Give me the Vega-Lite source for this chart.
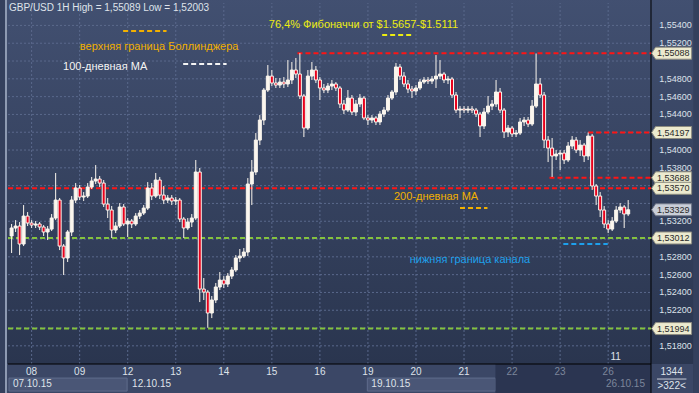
{
"$schema":"https://vega.github.io/schema/vega-lite/v6.json",
"width":653,"height":361,
"autosize":{"type":"none"},
"padding":{"left":3,"top":3,"right":43,"bottom":29},
"background":"#34405d",
"config":{"locale":{"number":{"decimal":",","thousands":" ","grouping":[3],"currency":["",""]}},"font":"Liberation Sans","view":{"stroke":null}},
"datasets":{
"candles":[
{"t":-10,"o":1.53034,"h":1.53169,"l":1.52843,"c":1.53124},
{"t":-8,"o":1.53124,"h":1.53213,"l":1.53079,"c":1.53146},
{"t":-6,"o":1.53146,"h":1.53191,"l":1.52820,"c":1.52944},
{"t":-4,"o":1.52944,"h":1.53382,"l":1.52921,"c":1.53258},
{"t":-2,"o":1.53258,"h":1.53303,"l":1.53146,"c":1.53180},
{"t":0,"o":1.53180,"h":1.53213,"l":1.53124,"c":1.53157},
{"t":2,"o":1.53157,"h":1.53202,"l":1.53124,"c":1.53169},
{"t":4,"o":1.53169,"h":1.53191,"l":1.53101,"c":1.53135},
{"t":6,"o":1.53135,"h":1.53157,"l":1.53034,"c":1.53079},
{"t":8,"o":1.53079,"h":1.53146,"l":1.52989,"c":1.53112},
{"t":10,"o":1.53112,"h":1.53281,"l":1.53090,"c":1.53236},
{"t":12,"o":1.53236,"h":1.53742,"l":1.53213,"c":1.53438},
{"t":14,"o":1.53438,"h":1.53461,"l":1.52876,"c":1.52921},
{"t":16,"o":1.52921,"h":1.52944,"l":1.52596,"c":1.52787},
{"t":18,"o":1.52787,"h":1.53101,"l":1.52742,"c":1.53079},
{"t":20,"o":1.53079,"h":1.53483,"l":1.53034,"c":1.53438},
{"t":22,"o":1.53438,"h":1.53629,"l":1.53404,"c":1.53573},
{"t":24,"o":1.53573,"h":1.53607,"l":1.53438,"c":1.53472},
{"t":26,"o":1.53472,"h":1.53528,"l":1.53427,"c":1.53483},
{"t":28,"o":1.53483,"h":1.53629,"l":1.53461,"c":1.53584},
{"t":30,"o":1.53584,"h":1.53697,"l":1.53562,"c":1.53652},
{"t":32,"o":1.53652,"h":1.53831,"l":1.53618,"c":1.53674},
{"t":34,"o":1.53674,"h":1.53708,"l":1.53584,"c":1.53629},
{"t":36,"o":1.53629,"h":1.53663,"l":1.53360,"c":1.53393},
{"t":38,"o":1.53393,"h":1.53461,"l":1.53236,"c":1.53326},
{"t":40,"o":1.53326,"h":1.53371,"l":1.53011,"c":1.53101},
{"t":42,"o":1.53101,"h":1.53191,"l":1.53067,"c":1.53146},
{"t":44,"o":1.53146,"h":1.53404,"l":1.53124,"c":1.53360},
{"t":46,"o":1.53360,"h":1.53393,"l":1.53146,"c":1.53169},
{"t":48,"o":1.53169,"h":1.53236,"l":1.53022,"c":1.53202},
{"t":50,"o":1.53202,"h":1.53225,"l":1.53124,"c":1.53169},
{"t":52,"o":1.53169,"h":1.53292,"l":1.53146,"c":1.53258},
{"t":54,"o":1.53258,"h":1.53326,"l":1.53225,"c":1.53292},
{"t":56,"o":1.53292,"h":1.53382,"l":1.53270,"c":1.53348},
{"t":58,"o":1.53348,"h":1.53640,"l":1.53326,"c":1.53573},
{"t":60,"o":1.53573,"h":1.53629,"l":1.53438,"c":1.53483},
{"t":62,"o":1.53483,"h":1.53742,"l":1.53461,"c":1.53663},
{"t":64,"o":1.53663,"h":1.53697,"l":1.53449,"c":1.53494},
{"t":66,"o":1.53494,"h":1.53596,"l":1.53393,"c":1.53438},
{"t":68,"o":1.53438,"h":1.53494,"l":1.53404,"c":1.53461},
{"t":70,"o":1.53461,"h":1.53494,"l":1.53382,"c":1.53427},
{"t":72,"o":1.53427,"h":1.53472,"l":1.53382,"c":1.53438},
{"t":74,"o":1.53438,"h":1.53461,"l":1.53191,"c":1.53225},
{"t":76,"o":1.53225,"h":1.53247,"l":1.53011,"c":1.53124},
{"t":78,"o":1.53124,"h":1.53236,"l":1.53101,"c":1.53191},
{"t":80,"o":1.53191,"h":1.53281,"l":1.53135,"c":1.53236},
{"t":82,"o":1.53236,"h":1.53888,"l":1.53213,"c":1.53753},
{"t":84,"o":1.53753,"h":1.53798,"l":1.52292,"c":1.52438},
{"t":86,"o":1.52438,"h":1.52562,"l":1.52315,"c":1.52404},
{"t":88,"o":1.52404,"h":1.52427,"l":1.52003,"c":1.52169},
{"t":90,"o":1.52169,"h":1.52360,"l":1.52112,"c":1.52315},
{"t":92,"o":1.52315,"h":1.52506,"l":1.52281,"c":1.52461},
{"t":94,"o":1.52461,"h":1.52629,"l":1.52427,"c":1.52539},
{"t":96,"o":1.52539,"h":1.52584,"l":1.52449,"c":1.52494},
{"t":98,"o":1.52494,"h":1.52618,"l":1.52461,"c":1.52584},
{"t":100,"o":1.52584,"h":1.52685,"l":1.52551,"c":1.52652},
{"t":102,"o":1.52652,"h":1.52820,"l":1.52629,"c":1.52787},
{"t":104,"o":1.52787,"h":1.52888,"l":1.52742,"c":1.52809},
{"t":106,"o":1.52809,"h":1.52899,"l":1.52787,"c":1.52854},
{"t":108,"o":1.52854,"h":1.53685,"l":1.52809,"c":1.53618},
{"t":110,"o":1.53618,"h":1.53888,"l":1.53382,"c":1.53753},
{"t":112,"o":1.53753,"h":1.54191,"l":1.53719,"c":1.54112},
{"t":114,"o":1.54112,"h":1.54393,"l":1.54056,"c":1.54337},
{"t":116,"o":1.54337,"h":1.54697,"l":1.54281,"c":1.54674},
{"t":118,"o":1.54674,"h":1.54955,"l":1.54652,"c":1.54831},
{"t":120,"o":1.54831,"h":1.54899,"l":1.54719,"c":1.54753},
{"t":122,"o":1.54753,"h":1.54809,"l":1.54697,"c":1.54730},
{"t":124,"o":1.54730,"h":1.54809,"l":1.54697,"c":1.54764},
{"t":126,"o":1.54764,"h":1.54820,"l":1.54697,"c":1.54742},
{"t":128,"o":1.54742,"h":1.55011,"l":1.54708,"c":1.54787},
{"t":130,"o":1.54787,"h":1.54989,"l":1.54742,"c":1.54899},
{"t":132,"o":1.54899,"h":1.55034,"l":1.54809,"c":1.54854},
{"t":134,"o":1.54854,"h":1.55089,"l":1.54573,"c":1.54607},
{"t":136,"o":1.54607,"h":1.54629,"l":1.54146,"c":1.54247},
{"t":138,"o":1.54247,"h":1.54899,"l":1.54225,"c":1.54831},
{"t":140,"o":1.54831,"h":1.54989,"l":1.54787,"c":1.54899},
{"t":142,"o":1.54899,"h":1.54944,"l":1.54753,"c":1.54787},
{"t":144,"o":1.54787,"h":1.54820,"l":1.54562,"c":1.54697},
{"t":146,"o":1.54697,"h":1.54742,"l":1.54640,"c":1.54674},
{"t":148,"o":1.54674,"h":1.54753,"l":1.54640,"c":1.54719},
{"t":150,"o":1.54719,"h":1.54787,"l":1.54674,"c":1.54742},
{"t":152,"o":1.54742,"h":1.54764,"l":1.54663,"c":1.54697},
{"t":154,"o":1.54697,"h":1.54719,"l":1.54472,"c":1.54517},
{"t":156,"o":1.54517,"h":1.54562,"l":1.54404,"c":1.54449},
{"t":158,"o":1.54449,"h":1.54674,"l":1.54427,"c":1.54584},
{"t":160,"o":1.54584,"h":1.54618,"l":1.54393,"c":1.54427},
{"t":162,"o":1.54427,"h":1.54562,"l":1.54382,"c":1.54517},
{"t":164,"o":1.54517,"h":1.54629,"l":1.54483,"c":1.54584},
{"t":166,"o":1.54584,"h":1.54607,"l":1.54337,"c":1.54360},
{"t":168,"o":1.54360,"h":1.54393,"l":1.54281,"c":1.54337},
{"t":170,"o":1.54337,"h":1.54393,"l":1.54303,"c":1.54360},
{"t":172,"o":1.54360,"h":1.54382,"l":1.54281,"c":1.54315},
{"t":174,"o":1.54315,"h":1.54438,"l":1.54281,"c":1.54404},
{"t":176,"o":1.54404,"h":1.54483,"l":1.54371,"c":1.54449},
{"t":178,"o":1.54449,"h":1.54618,"l":1.54427,"c":1.54584},
{"t":180,"o":1.54584,"h":1.54674,"l":1.54562,"c":1.54652},
{"t":182,"o":1.54652,"h":1.54978,"l":1.54618,"c":1.54933},
{"t":184,"o":1.54933,"h":1.54966,"l":1.54787,"c":1.54831},
{"t":186,"o":1.54831,"h":1.54876,"l":1.54708,"c":1.54742},
{"t":188,"o":1.54742,"h":1.54787,"l":1.54640,"c":1.54685},
{"t":190,"o":1.54685,"h":1.54719,"l":1.54584,"c":1.54663},
{"t":192,"o":1.54663,"h":1.54730,"l":1.54618,"c":1.54697},
{"t":194,"o":1.54697,"h":1.54798,"l":1.54674,"c":1.54764},
{"t":196,"o":1.54764,"h":1.54820,"l":1.54742,"c":1.54787},
{"t":198,"o":1.54787,"h":1.54820,"l":1.54742,"c":1.54775},
{"t":200,"o":1.54775,"h":1.54831,"l":1.54742,"c":1.54798},
{"t":202,"o":1.54798,"h":1.55067,"l":1.54697,"c":1.54831},
{"t":204,"o":1.54831,"h":1.55011,"l":1.54798,"c":1.54854},
{"t":206,"o":1.54854,"h":1.54876,"l":1.54753,"c":1.54787},
{"t":208,"o":1.54787,"h":1.54831,"l":1.54742,"c":1.54798},
{"t":210,"o":1.54798,"h":1.54820,"l":1.54584,"c":1.54618},
{"t":212,"o":1.54618,"h":1.54652,"l":1.54416,"c":1.54449},
{"t":214,"o":1.54449,"h":1.54494,"l":1.54360,"c":1.54461},
{"t":216,"o":1.54461,"h":1.54494,"l":1.54416,"c":1.54449},
{"t":218,"o":1.54449,"h":1.54494,"l":1.54416,"c":1.54461},
{"t":220,"o":1.54461,"h":1.54494,"l":1.54416,"c":1.54449},
{"t":222,"o":1.54449,"h":1.54472,"l":1.54371,"c":1.54404},
{"t":224,"o":1.54404,"h":1.54427,"l":1.54146,"c":1.54270},
{"t":226,"o":1.54270,"h":1.54472,"l":1.54236,"c":1.54427},
{"t":228,"o":1.54427,"h":1.54607,"l":1.54404,"c":1.54494},
{"t":230,"o":1.54494,"h":1.54562,"l":1.54449,"c":1.54517},
{"t":232,"o":1.54517,"h":1.54787,"l":1.54483,"c":1.54652},
{"t":234,"o":1.54652,"h":1.54697,"l":1.54416,"c":1.54449},
{"t":236,"o":1.54449,"h":1.54472,"l":1.54135,"c":1.54202},
{"t":238,"o":1.54202,"h":1.54281,"l":1.54146,"c":1.54247},
{"t":240,"o":1.54247,"h":1.54270,"l":1.54146,"c":1.54180},
{"t":242,"o":1.54180,"h":1.54225,"l":1.54146,"c":1.54191},
{"t":244,"o":1.54191,"h":1.54360,"l":1.54169,"c":1.54315},
{"t":246,"o":1.54315,"h":1.54371,"l":1.54270,"c":1.54337},
{"t":248,"o":1.54337,"h":1.54371,"l":1.54258,"c":1.54292},
{"t":250,"o":1.54292,"h":1.54562,"l":1.54270,"c":1.54494},
{"t":252,"o":1.54494,"h":1.55085,"l":1.54472,"c":1.54742},
{"t":254,"o":1.54742,"h":1.54809,"l":1.54584,"c":1.54618},
{"t":256,"o":1.54618,"h":1.54652,"l":1.54022,"c":1.54112},
{"t":258,"o":1.54112,"h":1.54157,"l":1.53865,"c":1.54022},
{"t":260,"o":1.54022,"h":1.54135,"l":1.53697,"c":1.53933},
{"t":262,"o":1.53933,"h":1.54000,"l":1.53888,"c":1.53955},
{"t":264,"o":1.53955,"h":1.54000,"l":1.53775,"c":1.53966},
{"t":266,"o":1.53966,"h":1.54000,"l":1.53843,"c":1.53888},
{"t":268,"o":1.53888,"h":1.54090,"l":1.53865,"c":1.54045},
{"t":270,"o":1.54045,"h":1.54157,"l":1.54011,"c":1.54112},
{"t":272,"o":1.54112,"h":1.54146,"l":1.53966,"c":1.54000},
{"t":274,"o":1.54000,"h":1.54112,"l":1.53933,"c":1.54056},
{"t":276,"o":1.54056,"h":1.54079,"l":1.53865,"c":1.53933},
{"t":278,"o":1.53933,"h":1.54197,"l":1.53888,"c":1.54157},
{"t":280,"o":1.54157,"h":1.54180,"l":1.53551,"c":1.53596},
{"t":282,"o":1.53596,"h":1.53618,"l":1.53382,"c":1.53483},
{"t":284,"o":1.53483,"h":1.53528,"l":1.53247,"c":1.53326},
{"t":286,"o":1.53326,"h":1.53371,"l":1.53124,"c":1.53169},
{"t":288,"o":1.53169,"h":1.53213,"l":1.53067,"c":1.53112},
{"t":290,"o":1.53112,"h":1.53247,"l":1.53090,"c":1.53202},
{"t":292,"o":1.53202,"h":1.53371,"l":1.53180,"c":1.53326},
{"t":294,"o":1.53326,"h":1.53404,"l":1.53292,"c":1.53360},
{"t":296,"o":1.53360,"h":1.53382,"l":1.53124,"c":1.53281},
{"t":298,"o":1.53281,"h":1.53438,"l":1.53258,"c":1.53329}
],
"hgrid":[{"v":1.518},{"v":1.52},{"v":1.522},{"v":1.524},{"v":1.526},{"v":1.528},{"v":1.53},{"v":1.532},{"v":1.534},{"v":1.536},{"v":1.538},{"v":1.54},{"v":1.542},{"v":1.544},{"v":1.546},{"v":1.548},{"v":1.55},{"v":1.552},{"v":1.554}],
"ylabels":[{"v":1.518},{"v":1.522},{"v":1.524},{"v":1.526},{"v":1.528},{"v":1.532},{"v":1.538},{"v":1.54},{"v":1.544},{"v":1.546},{"v":1.548},{"v":1.552},{"v":1.554}],
"vgrid":[{"t":0,"d":"08"},{"t":24,"d":"09"},{"t":48,"d":"12"},{"t":72,"d":"13"},{"t":96,"d":"14"},{"t":120,"d":"15"},{"t":144,"d":"16"},{"t":168,"d":"19"},{"t":192,"d":"20"},{"t":216,"d":"21"},{"t":240,"d":"22"},{"t":264,"d":"23"},{"t":288,"d":"26"}],
"levels":[{"v":1.55088,"t":132.8,"t2":309.4,"k":"res"},{"v":1.54197,"t":278,"t2":309.4,"k":"res"},{"v":1.53688,"t":258.7,"t2":309.4,"k":"res"},{"v":1.5357,"t":-11.8,"t2":309.4,"k":"res"},{"v":1.53012,"t":-11.8,"t2":309.4,"k":"sup"},{"v":1.51994,"t":-11.8,"t2":309.4,"k":"sup"}],
"keys":[{"t":175.1,"t2":189.9,"v":1.55292,"k":"fib"},{"t":45.7,"t2":67.4,"v":1.55337,"k":"boll"},{"t":75.7,"t2":97.4,"v":1.54966,"k":"ma100"},{"t":214,"t2":227.7,"v":1.53348,"k":"ma200"},{"t":265.6,"t2":287.8,"v":1.52944,"k":"chan"}],
"notes":[{"t":118.5,"v":1.55404,"k":"fib","txt":"76,4% Фибоначчи от $1.5657-$1.5111"},{"t":24.1,"v":1.55157,"k":"boll","txt":"верхняя граница Боллинджера"},{"t":15.7,"v":1.54933,"k":"ma100","txt":"100-дневная МА"},{"t":181,"v":1.53472,"k":"ma200","txt":"200-дневная МА"},{"t":188.9,"v":1.52764,"k":"chan","txt":"нижняя граница канала"}],
"tags":[{"v":1.55088},{"v":1.54197},{"v":1.53688},{"v":1.5357},{"v":1.53012},{"v":1.51994}],
"last":[{"v":1.53329}],
"weeks":[{"t":-9.35,"txt":"07.10.15"},{"t":50.2,"txt":"12.10.15"},{"t":169.7,"txt":"19.10.15"}],
"boxes":[{"t":-11.3,"t2":47.7},{"t":167.7,"t2":231.7}]
},
"layer":[
{"data":{"values":[{}]},"mark":{"type":"rect","fill":{"gradient":"linear","x1":0,"y1":0,"x2":0,"y2":1,"stops":[{"offset":0,"color":"#425071"},{"offset":1,"color":"#28334c"}]}},
"encoding":{"x":{"datum":-13.3,"type":"quantitative","scale":{"domain":[-11.8,309.4],"nice":false,"zero":false},"axis":null},"x2":{"datum":330.5},"y":{"datum":1.55719,"type":"quantitative","scale":{"domain":[1.51596,1.55652],"nice":false,"zero":false},"axis":null},"y2":{"datum":1.5127}}},
{"data":{"values":[{}]},"mark":{"type":"rect","fill":"#3b4766"},
"encoding":{"x":{"datum":-13.3,"type":"quantitative","scale":{"domain":[-11.8,309.4],"nice":false,"zero":false},"axis":null},"x2":{"datum":330.5},"y":{"datum":1.51596,"type":"quantitative","scale":{"domain":[1.51596,1.55652],"nice":false,"zero":false},"axis":null},"y2":{"datum":1.5127}}},
{"data":{"name":"boxes"},"mark":{"type":"rect","fill":"#4a5676","stroke":"#5f6c8c","strokeWidth":1},
"encoding":{"x":{"field":"t","type":"quantitative","scale":{"domain":[-11.8,309.4],"nice":false,"zero":false},"axis":null},"x2":{"field":"t2"},"y":{"datum":1.51438,"type":"quantitative","scale":{"domain":[1.51596,1.55652],"nice":false,"zero":false},"axis":null},"y2":{"datum":1.51292}}},
{"data":{"values":[{}]},"mark":{"type":"rect","fill":"#2b3551"},
"encoding":{"x":{"datum":231.7,"type":"quantitative","scale":{"domain":[-11.8,309.4],"nice":false,"zero":false},"axis":null},"x2":{"datum":309.4},"y":{"datum":1.51596,"type":"quantitative","scale":{"domain":[1.51596,1.55652],"nice":false,"zero":false},"axis":null},"y2":{"datum":1.5127}}},
{"data":{"values":[{}]},"mark":{"type":"rule","color":"#8e9ab2","strokeWidth":2},
"encoding":{"x":{"datum":-12.8,"type":"quantitative","scale":{"domain":[-11.8,309.4],"nice":false,"zero":false},"axis":null},"y":{"datum":1.5127,"type":"quantitative","scale":{"domain":[1.51596,1.55652],"nice":false,"zero":false},"axis":null},"y2":{"datum":1.55719}}},
{"data":{"name":"hgrid"},"mark":{"type":"rule","color":"#5a698c","strokeWidth":1,"strokeDash":[2,2]},
"encoding":{"y":{"field":"v","type":"quantitative","scale":{"domain":[1.51596,1.55652],"nice":false,"zero":false},"axis":null},"x":{"datum":-11.8,"type":"quantitative","scale":{"domain":[-11.8,309.4],"nice":false,"zero":false},"axis":null},"x2":{"datum":309.4}}},
{"data":{"name":"vgrid"},"mark":{"type":"rule","color":"#5a698c","strokeWidth":1,"strokeDash":[2,2]},
"encoding":{"x":{"field":"t","type":"quantitative","scale":{"domain":[-11.8,309.4],"nice":false,"zero":false},"axis":null},"y":{"datum":1.51596,"type":"quantitative","scale":{"domain":[1.51596,1.55652],"nice":false,"zero":false},"axis":null},"y2":{"datum":1.55652}}},
{"data":{"name":"ylabels"},"mark":{"type":"text","align":"left","baseline":"middle","fontSize":9,"color":"#dde2ea"},
"encoding":{"y":{"field":"v","type":"quantitative","scale":{"domain":[1.51596,1.55652],"nice":false,"zero":false},"axis":null},"x":{"datum":313.5,"type":"quantitative","scale":{"domain":[-11.8,309.4],"nice":false,"zero":false},"axis":null},"text":{"field":"v","format":".5f"}}},
{"data":{"name":"vgrid"},"mark":{"type":"text","align":"center","baseline":"middle","fontSize":10},
"encoding":{"x":{"field":"t","type":"quantitative","scale":{"domain":[-11.8,309.4],"nice":false,"zero":false},"axis":null},"y":{"datum":1.51506,"type":"quantitative","scale":{"domain":[1.51596,1.55652],"nice":false,"zero":false},"axis":null},"text":{"field":"d"},
"color":{"condition":{"test":"datum.t >= 240","value":"#7c869b"},"value":"#dde2ea"}}},
{"data":{"values":[{}]},"mark":{"type":"rule","color":"#000000","strokeWidth":1},
"encoding":{"x":{"datum":-11.8,"type":"quantitative","scale":{"domain":[-11.8,309.4],"nice":false,"zero":false},"axis":null},"x2":{"datum":309.4},"y":{"datum":1.51596,"type":"quantitative","scale":{"domain":[1.51596,1.55652],"nice":false,"zero":false},"axis":null}}},
{"data":{"values":[{}]},"mark":{"type":"rule","color":"#000000","strokeWidth":1},
"encoding":{"x":{"datum":309.4,"type":"quantitative","scale":{"domain":[-11.8,309.4],"nice":false,"zero":false},"axis":null},"y":{"datum":1.5127,"type":"quantitative","scale":{"domain":[1.51596,1.55652],"nice":false,"zero":false},"axis":null},"y2":{"datum":1.55719}}},
{"data":{"name":"levels"},"mark":{"type":"rule","strokeWidth":2,"strokeDash":[5,3]},
"encoding":{"x":{"field":"t","type":"quantitative","scale":{"domain":[-11.8,309.4],"nice":false,"zero":false},"axis":null},"x2":{"field":"t2"},"y":{"field":"v","type":"quantitative","scale":{"domain":[1.51596,1.55652],"nice":false,"zero":false},"axis":null},
"color":{"field":"k","type":"nominal","scale":{"domain":["res","sup","fib","boll","ma100","ma200","chan"],"range":["#ff1414","#84c23e","#ecec10","#f2b000","#f4f4f4","#f2b000","#1ea0ec"]},"legend":null}}},
{"data":{"name":"keys"},"mark":{"type":"rule","strokeWidth":2,"strokeDash":[5,3]},
"encoding":{"x":{"field":"t","type":"quantitative","scale":{"domain":[-11.8,309.4],"nice":false,"zero":false},"axis":null},"x2":{"field":"t2"},"y":{"field":"v","type":"quantitative","scale":{"domain":[1.51596,1.55652],"nice":false,"zero":false},"axis":null},
"color":{"field":"k","type":"nominal","scale":{"domain":["res","sup","fib","boll","ma100","ma200","chan"],"range":["#ff1414","#84c23e","#ecec10","#f2b000","#f4f4f4","#f2b000","#1ea0ec"]},"legend":null}}},
{"data":{"name":"candles"},"mark":{"type":"rule","color":"#fbf6ee","strokeWidth":1},
"encoding":{"x":{"field":"t","type":"quantitative","scale":{"domain":[-11.8,309.4],"nice":false,"zero":false},"axis":null},"y":{"field":"l","type":"quantitative","scale":{"domain":[1.51596,1.55652],"nice":false,"zero":false},"axis":null},"y2":{"field":"h"}}},
{"data":{"name":"candles"},"mark":{"type":"bar","width":3,"stroke":"#fbf6ee","strokeWidth":1},
"encoding":{"x":{"field":"t","type":"quantitative","scale":{"domain":[-11.8,309.4],"nice":false,"zero":false},"axis":null},
"y":{"field":"o","type":"quantitative","scale":{"domain":[1.51596,1.55652],"nice":false,"zero":false},"axis":null},
"y2":{"field":"c"},
"fill":{"condition":{"test":"datum.c < datum.o","value":"#e8001c"},"value":"#fbf6ee"}}},
{"data":{"name":"notes"},"mark":{"type":"text","align":"left","baseline":"middle","fontSize":11,"font":"Liberation Sans"},
"encoding":{"x":{"field":"t","type":"quantitative","scale":{"domain":[-11.8,309.4],"nice":false,"zero":false},"axis":null},"y":{"field":"v","type":"quantitative","scale":{"domain":[1.51596,1.55652],"nice":false,"zero":false},"axis":null},"text":{"field":"txt"},
"color":{"field":"k","type":"nominal","scale":{"domain":["res","sup","fib","boll","ma100","ma200","chan"],"range":["#ff1414","#84c23e","#ecec10","#f2b000","#f4f4f4","#f2b000","#1ea0ec"]},"legend":null}}},
{"data":{"values":[{"txt":"GBP/USD 1H High = 1,55089 Low = 1,52003"}]},"mark":{"type":"text","align":"left","baseline":"middle","fontSize":10,"color":"#dfe3ea"},
"encoding":{"x":{"datum":-11.3,"type":"quantitative","scale":{"domain":[-11.8,309.4],"nice":false,"zero":false},"axis":null},"y":{"datum":1.55596,"type":"quantitative","scale":{"domain":[1.51596,1.55652],"nice":false,"zero":false},"axis":null},"text":{"field":"txt"}}},
{"data":{"name":"weeks"},"mark":{"type":"text","align":"left","baseline":"middle","fontSize":10,"color":"#dfe3ea"},
"encoding":{"x":{"field":"t","type":"quantitative","scale":{"domain":[-11.8,309.4],"nice":false,"zero":false},"axis":null},"y":{"datum":1.51371,"type":"quantitative","scale":{"domain":[1.51596,1.55652],"nice":false,"zero":false},"axis":null},"text":{"field":"txt"}}},
{"data":{"values":[{"txt":"26.10.15"}]},"mark":{"type":"text","align":"right","baseline":"middle","fontSize":10,"color":"#7c869b"},
"encoding":{"x":{"datum":306.4,"type":"quantitative","scale":{"domain":[-11.8,309.4],"nice":false,"zero":false},"axis":null},"y":{"datum":1.51371,"type":"quantitative","scale":{"domain":[1.51596,1.55652],"nice":false,"zero":false},"axis":null},"text":{"field":"txt"}}},
{"data":{"values":[{"txt":"11"}]},"mark":{"type":"text","align":"center","baseline":"middle","fontSize":10,"color":"#dfe3ea"},
"encoding":{"x":{"datum":291.7,"type":"quantitative","scale":{"domain":[-11.8,309.4],"nice":false,"zero":false},"axis":null},"y":{"datum":1.51674,"type":"quantitative","scale":{"domain":[1.51596,1.55652],"nice":false,"zero":false},"axis":null},"text":{"field":"txt"}}},
{"data":{"values":[{"txt":"1344","v":1.51506},{"txt":">322<","v":1.51348}]},"mark":{"type":"text","align":"center","baseline":"middle","fontSize":10,"color":"#dfe3ea"},
"encoding":{"x":{"datum":319.7,"type":"quantitative","scale":{"domain":[-11.8,309.4],"nice":false,"zero":false},"axis":null},"y":{"field":"v","type":"quantitative","scale":{"domain":[1.51596,1.55652],"nice":false,"zero":false},"axis":null},"text":{"field":"txt"}}},
{"data":{"values":[{}]},"mark":{"type":"rule","color":"#c8cdd8","strokeWidth":1},
"encoding":{"x":{"datum":312.4,"type":"quantitative","scale":{"domain":[-11.8,309.4],"nice":false,"zero":false},"axis":null},"x2":{"datum":327.1},"y":{"datum":1.51427,"type":"quantitative","scale":{"domain":[1.51596,1.55652],"nice":false,"zero":false},"axis":null}}},
{"data":{"name":"tags"},"mark":{"type":"point","shape":"M-1,0L-0.8,-0.3L1,-0.3L1,0.3L-0.8,0.3Z","size":1600,"filled":true,"fill":"#eceacf","stroke":"#8d8c80","strokeWidth":1,"opacity":1},
"encoding":{"x":{"datum":319.7,"type":"quantitative","scale":{"domain":[-11.8,309.4],"nice":false,"zero":false},"axis":null},"y":{"field":"v","type":"quantitative","scale":{"domain":[1.51596,1.55652],"nice":false,"zero":false},"axis":null}}},
{"data":{"name":"last"},"mark":{"type":"point","shape":"M-1,0L-0.8,-0.3L1,-0.3L1,0.3L-0.8,0.3Z","size":1600,"filled":true,"fill":"#c9ced8","stroke":"#6e7486","strokeWidth":1,"opacity":1},
"encoding":{"x":{"datum":319.7,"type":"quantitative","scale":{"domain":[-11.8,309.4],"nice":false,"zero":false},"axis":null},"y":{"field":"v","type":"quantitative","scale":{"domain":[1.51596,1.55652],"nice":false,"zero":false},"axis":null}}},
{"data":{"name":"tags"},"mark":{"type":"text","align":"center","baseline":"middle","fontSize":9,"color":"#2a2a2a"},
"encoding":{"x":{"datum":320.5,"type":"quantitative","scale":{"domain":[-11.8,309.4],"nice":false,"zero":false},"axis":null},"y":{"field":"v","type":"quantitative","scale":{"domain":[1.51596,1.55652],"nice":false,"zero":false},"axis":null},"text":{"field":"v","format":".5f"}}},
{"data":{"name":"last"},"mark":{"type":"text","align":"center","baseline":"middle","fontSize":9,"color":"#2a2a2a"},
"encoding":{"x":{"datum":320.5,"type":"quantitative","scale":{"domain":[-11.8,309.4],"nice":false,"zero":false},"axis":null},"y":{"field":"v","type":"quantitative","scale":{"domain":[1.51596,1.55652],"nice":false,"zero":false},"axis":null},"text":{"field":"v","format":".5f"}}}
]
}
